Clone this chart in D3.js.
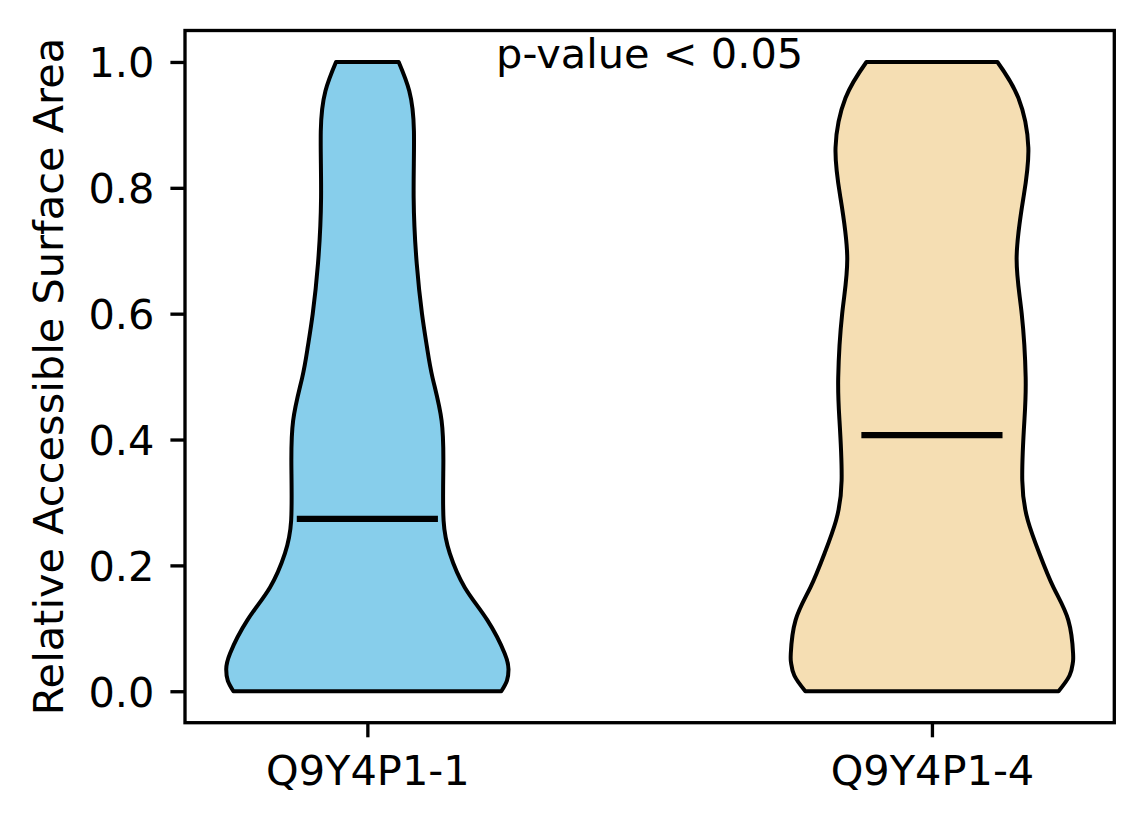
<!DOCTYPE html>
<html>
<head>
<meta charset="utf-8">
<script src="https://cdn.jsdelivr.net/npm/d3@7"></script>
<style>
  body { margin: 0; background: #fff; }
  text { font-family: "DejaVu Sans", sans-serif; }
</style>
</head>
<body>
<div id="chart"></div>
<script>
// Data
const categories = ["Q9Y4P1-1", "Q9Y4P1-4"];
const colors = ["#87CEEB", "#F5DEB3"];
const medians = [0.274, 0.407];
// density profiles: value on y axis, relative half width (1 = widest point)
const valuesA = [0.000, 0.017, 0.035, 0.060, 0.113, 0.165, 0.219, 0.271, 0.351, 0.430, 0.498, 0.546, 0.600, 0.679, 0.784, 0.890, 0.954, 1.000];
const widthsA = [0.949, 0.989, 1.000, 0.973, 0.850, 0.690, 0.584, 0.540, 0.538, 0.526, 0.462, 0.423, 0.387, 0.350, 0.328, 0.330, 0.297, 0.222];
const valuesB = [0.000, 0.025, 0.045, 0.060, 0.113, 0.165, 0.219, 0.271, 0.335, 0.430, 0.499, 0.600, 0.689, 0.784, 0.864, 0.943, 1.000];
const widthsB = [0.897, 0.975, 0.998, 1.000, 0.966, 0.861, 0.761, 0.680, 0.640, 0.655, 0.664, 0.636, 0.600, 0.648, 0.683, 0.612, 0.464];
const yTicks = [0.0, 0.2, 0.4, 0.6, 0.8, 1.0];
const annotation = "p-value < 0.05";
const yTitle = "Relative Accessible Surface Area";

// Define margin, width and height
const margin = { top: 30.5, right: 29.7, bottom: 101.3, left: 185 };
const width = 1144 - margin.left - margin.right;
const height = 824 - margin.top - margin.bottom;
const fontSize = 41.5;
const violinWidth = 0.5;

const svg = d3.select("#chart")
  .append("svg")
  .attr("width", width + margin.left + margin.right)
  .attr("height", height + margin.top + margin.bottom)
  .append("g")
  .attr("transform", `translate(${margin.left},${margin.top})`);

// Scales
const xScale = d3.scaleLinear()
  .domain([0.677, 2.323])
  .range([0, width]);

const yScale = d3.scaleLinear()
  .domain([-0.05, 1.05])
  .range([height, 0]);

// Violins
const profiles = [
  valuesA.map((v, i) => ({ v: v, w: widthsA[i] })),
  valuesB.map((v, i) => ({ v: v, w: widthsB[i] }))
];

profiles.forEach(function(prof, i) {
  const pos = i + 1;
  const area = d3.area()
    .y(d => yScale(d.v))
    .x0(d => xScale(pos - d.w * violinWidth / 2))
    .x1(d => xScale(pos + d.w * violinWidth / 2))
    .curve(d3.curveNatural);

  svg.append("path")
    .datum(prof)
    .attr("d", area)
    .attr("fill", colors[i])
    .attr("stroke", "#000")
    .attr("stroke-width", 4)
    .attr("stroke-linejoin", "round");
});

// Median lines
svg.selectAll(".median")
  .data(medians)
  .enter()
  .append("line")
  .attr("class", "median")
  .attr("x1", (d, i) => xScale(i + 1 - violinWidth / 4))
  .attr("x2", (d, i) => xScale(i + 1 + violinWidth / 4))
  .attr("y1", d => yScale(d))
  .attr("y2", d => yScale(d))
  .attr("stroke", "#000")
  .attr("stroke-width", 6.25);

// Axes
const xAxis = d3.axisBottom(xScale)
  .tickValues([1, 2])
  .tickFormat((d, i) => categories[i])
  .tickSize(14.6)
  .tickSizeOuter(0);

const yAxis = d3.axisLeft(yScale)
  .tickValues(yTicks)
  .tickFormat(d3.format(".1f"))
  .tickSize(14.6)
  .tickPadding(16)
  .tickSizeOuter(0);

const gx = svg.append("g")
  .attr("class", "x-axis")
  .attr("transform", `translate(0,${height})`)
  .call(xAxis);
gx.select(".domain").remove();
gx.selectAll(".tick line").attr("stroke-width", 3.33);
gx.selectAll(".tick text")
  .attr("y", 33)
  .attr("dy", "0.71em")
  .style("font-size", fontSize + "px")
  .attr("fill", "#000");

const gy = svg.append("g")
  .attr("class", "y-axis")
  .call(yAxis);
gy.select(".domain").remove();
gy.selectAll(".tick line").attr("stroke-width", 3.33);
gy.selectAll(".tick text")
  .attr("dy", "0.36em")
  .style("font-size", fontSize + "px")
  .attr("fill", "#000");

// Frame around the plot
svg.append("rect")
  .attr("width", width)
  .attr("height", height)
  .attr("fill", "none")
  .attr("stroke", "#000")
  .attr("stroke-width", 3.33);

// Y axis title
svg.append("text")
  .attr("transform", "rotate(-90)")
  .attr("x", -height / 2)
  .attr("y", 63.3 - margin.left)
  .style("text-anchor", "middle")
  .style("font-size", fontSize + "px")
  .text(yTitle);

// p-value note
svg.append("text")
  .attr("x", width / 2)
  .attr("y", yScale(1.0))
  .attr("dy", "0.15em")
  .style("text-anchor", "middle")
  .style("font-size", fontSize + "px")
  .text(annotation);
</script>
</body>
</html>
